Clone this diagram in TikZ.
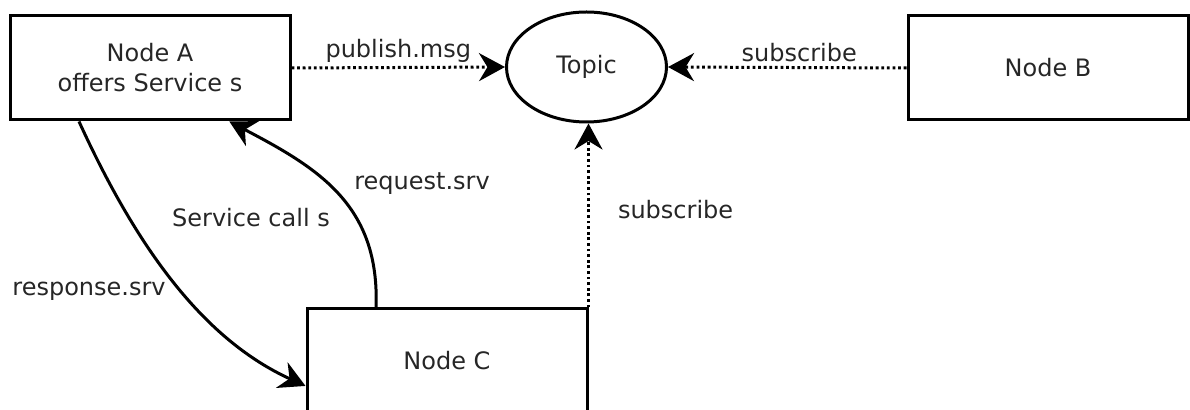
\documentclass[tikz,border=0pt]{standalone}
\usepackage{fontspec}
\setmainfont{DejaVu Sans}
\usetikzlibrary{arrows.meta,shapes.geometric}

\tikzset{
  rosnode/.style={draw, line width=1.5pt, minimum width=140pt, minimum height=52pt, align=center, inner sep=0pt},
  topicnode/.style={draw, ellipse, line width=1.5pt, minimum width=80pt, minimum height=55pt, inner sep=0pt},
  pubsub/.style={line width=1.5pt, dash pattern=on 1.4pt off 1.4pt, -{Stealth[length=13pt,width=14pt]}},
  srvcall/.style={line width=1.5pt, -{Stealth[length=13pt,width=14pt]}},
  lbl/.style={inner sep=2pt}
}

\begin{document}
\begin{tikzpicture}[x=0.5pt,y=0.5pt,yscale=-1,xscale=1,font=\fontsize{12}{15}\selectfont,text=black!85]
\useasboundingbox (0,0) rectangle (1190,410);

%Shape: Rectangle
\node[rosnode] (nodeA) at (150,68) {Node A\\offers Service s};
%Shape: Ellipse
\node[topicnode] (topic) at (586.5,67) {Topic};
%Shape: Rectangle
\node[rosnode] (nodeB) at (1048,68) {Node B};
%Shape: Rectangle
\node[rosnode] (nodeC) at (447,361) {Node C};

%Straight Lines
\draw[pubsub] (nodeA.east) -- node[lbl, above] (pubLbl) {publish.msg} (topic.west);
%Straight Lines
\draw[pubsub] (nodeB.west) -- node[lbl, above, pos=0.45] (subLblB) {subscribe} (topic.east);
%Straight Lines
\draw[pubsub] (nodeC.north east) -- node[lbl, right=12pt, pos=0.53] (subLblC) {subscribe} (nodeC.north east |- topic.south);

%Curve Lines
\draw[srvcall] (nodeC.143) .. controls (380,205) and (318,168) .. (nodeA.-34);
%Curve Lines
\draw[srvcall] (nodeA.217) .. controls (140,255) and (207,341) .. (nodeC.190);

% Text Node
\node[lbl] (svcLbl) at (251,218) {Service call s};
% Text Node
\node[lbl] (reqLbl) at (422,184) {request.srv};
% Text Node
\node[lbl] (respLbl) at (89,291) {response.srv};

\end{tikzpicture}
\end{document}
